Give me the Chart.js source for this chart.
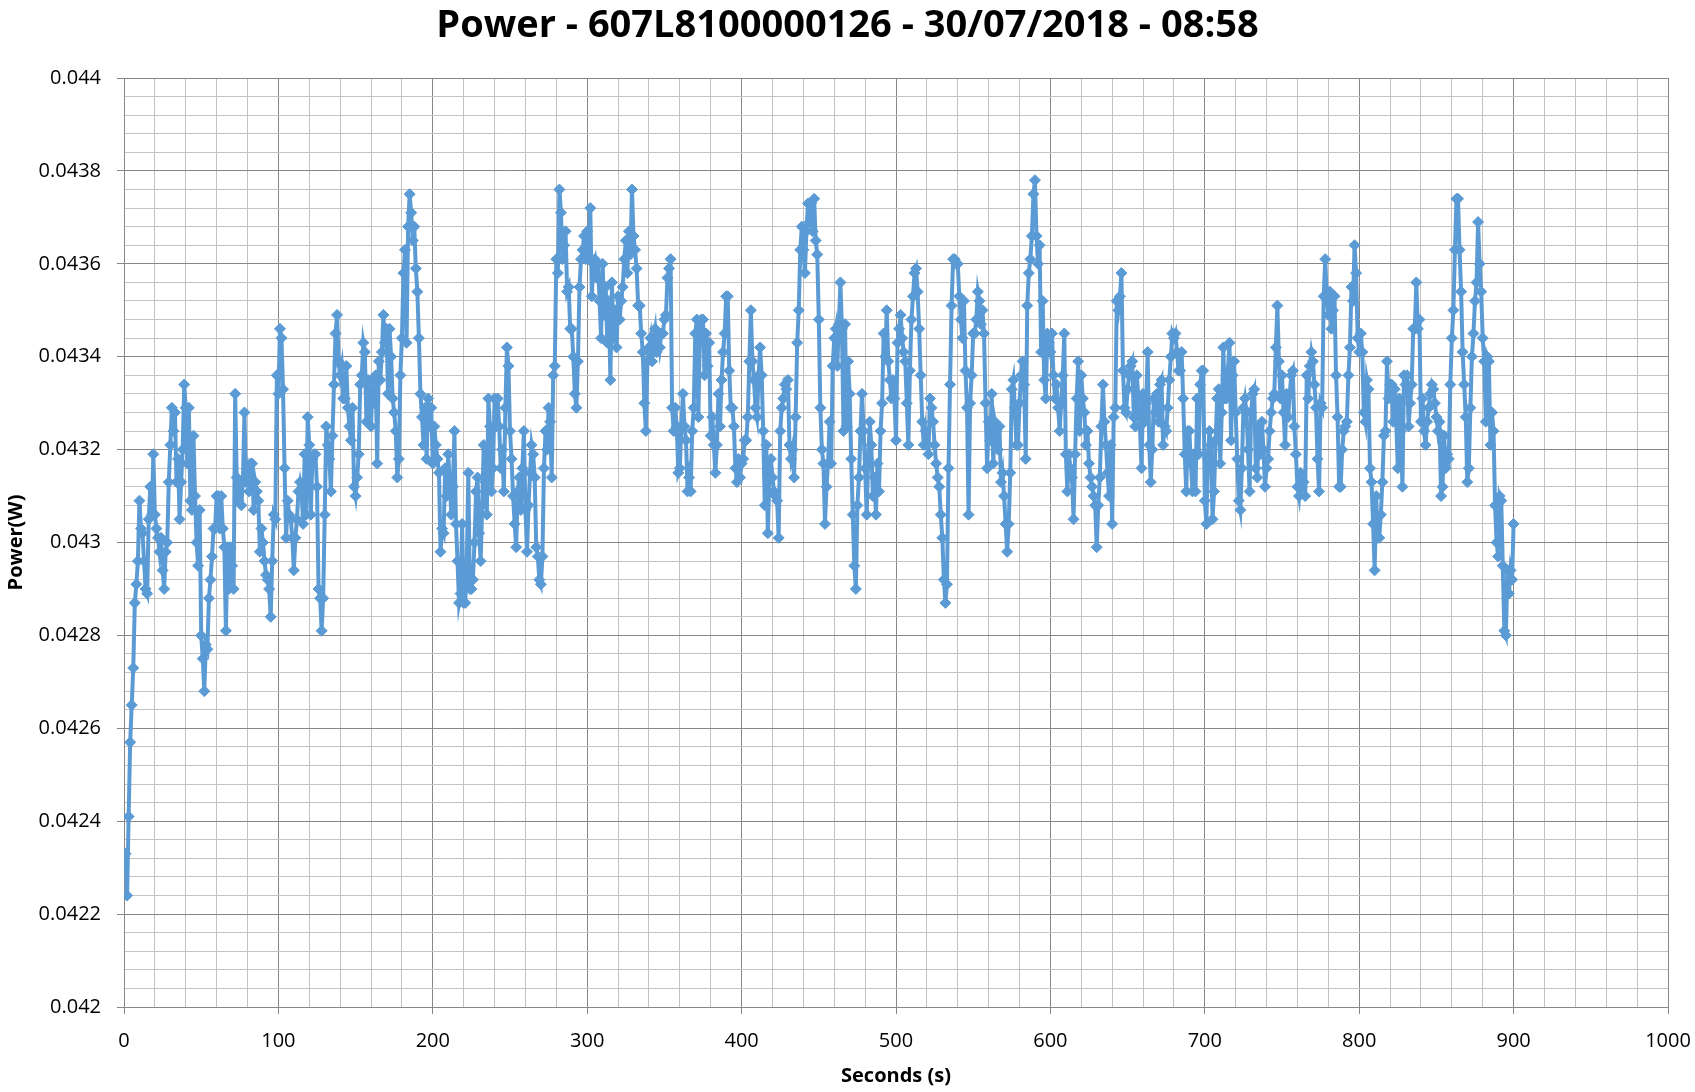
<!DOCTYPE html>
<html>
<head>
<meta charset="utf-8">
<script src="https://cdn.jsdelivr.net/npm/chart.js@4.4.1/dist/chart.umd.min.js"></script>
<style>
html,body{margin:0;padding:0;background:#ffffff;}
#wrap{width:1695px;height:1092px;position:relative;}
</style>
</head>
<body>
<div id="wrap"><canvas id="c" width="1695" height="1092"></canvas></div>
<script>
const chartTitle = 'Power - 607L8100000126 - 30/07/2018 - 08:58';
const xAxisTitle = 'Seconds (s)';
const yAxisTitle = 'Power(W)';

// sampling: one reading per second, first reading at second 1
const firstSecond = 1;

// Power readings (W), one per second
const powerW = [
0.04233,0.04224,0.04241,0.04257,0.04265,0.04273,0.04287,0.04291,0.04296,0.04309,
0.04303,0.04302,0.04296,0.04290,0.04289,0.04305,0.04312,0.04306,0.04319,0.04306,
0.04303,0.04301,0.04298,0.04301,0.04294,0.04290,0.04298,0.04300,0.04313,0.04321,
0.04329,0.04324,0.04328,0.04313,0.04318,0.04305,0.04313,0.04320,0.04334,0.04329,
0.04317,0.04329,0.04309,0.04307,0.04323,0.04310,0.04300,0.04295,0.04307,0.04280,
0.04275,0.04268,0.04278,0.04277,0.04288,0.04292,0.04297,0.04303,0.04303,0.04310,
0.04310,0.04303,0.04310,0.04303,0.04299,0.04281,0.04299,0.04290,0.04299,0.04295,
0.04290,0.04332,0.04314,0.04309,0.04313,0.04308,0.04313,0.04328,0.04313,0.04315,
0.04311,0.04317,0.04317,0.04307,0.04313,0.04311,0.04309,0.04298,0.04303,0.04300,
0.04296,0.04293,0.04292,0.04290,0.04284,0.04296,0.04306,0.04305,0.04336,0.04332,
0.04346,0.04344,0.04333,0.04316,0.04301,0.04309,0.04306,0.04305,0.04301,0.04294,
0.04301,0.04305,0.04311,0.04313,0.04311,0.04304,0.04319,0.04306,0.04327,0.04321,
0.04306,0.04318,0.04319,0.04319,0.04312,0.04290,0.04288,0.04281,0.04288,0.04306,
0.04325,0.04321,0.04318,0.04311,0.04323,0.04334,0.04345,0.04349,0.04339,0.04336,
0.04338,0.04331,0.04331,0.04338,0.04329,0.04325,0.04322,0.04329,0.04312,0.04310,
0.04314,0.04319,0.04334,0.04336,0.04343,0.04341,0.04326,0.04335,0.04330,0.04325,
0.04335,0.04330,0.04336,0.04317,0.04339,0.04335,0.04341,0.04349,0.04343,0.04346,
0.04332,0.04346,0.04340,0.04331,0.04328,0.04324,0.04314,0.04318,0.04336,0.04344,
0.04358,0.04363,0.04343,0.04368,0.04375,0.04371,0.04365,0.04368,0.04359,0.04354,
0.04344,0.04332,0.04327,0.04321,0.04329,0.04318,0.04331,0.04325,0.04329,0.04317,
0.04325,0.04321,0.04318,0.04315,0.04298,0.04303,0.04302,0.04316,0.04310,0.04319,
0.04313,0.04306,0.04312,0.04324,0.04304,0.04296,0.04287,0.04289,0.04304,0.04287,
0.04287,0.04295,0.04315,0.04290,0.04290,0.04292,0.04300,0.04311,0.04314,0.04302,
0.04296,0.04308,0.04321,0.04313,0.04306,0.04331,0.04325,0.04311,0.04316,0.04331,
0.04325,0.04331,0.04325,0.04316,0.04320,0.04311,0.04329,0.04342,0.04338,0.04324,
0.04318,0.04310,0.04304,0.04299,0.04311,0.04314,0.04307,0.04316,0.04324,0.04307,
0.04298,0.04308,0.04315,0.04321,0.04319,0.04314,0.04299,0.04297,0.04292,0.04291,
0.04297,0.04316,0.04324,0.04320,0.04329,0.04326,0.04314,0.04336,0.04338,0.04361,
0.04358,0.04376,0.04371,0.04361,0.04364,0.04367,0.04354,0.04355,0.04346,0.04346,
0.04340,0.04332,0.04329,0.04339,0.04355,0.04361,0.04363,0.04366,0.04361,0.04367,
0.04361,0.04372,0.04353,0.04360,0.04361,0.04357,0.04360,0.04352,0.04344,0.04360,
0.04349,0.04355,0.04343,0.04352,0.04335,0.04356,0.04344,0.04350,0.04342,0.04353,
0.04348,0.04352,0.04355,0.04361,0.04365,0.04358,0.04367,0.04362,0.04376,0.04366,
0.04363,0.04359,0.04351,0.04351,0.04345,0.04341,0.04330,0.04324,0.04339,0.04342,
0.04344,0.04339,0.04344,0.04346,0.04341,0.04345,0.04342,0.04345,0.04345,0.04348,
0.04349,0.04357,0.04359,0.04361,0.04329,0.04324,0.04329,0.04325,0.04315,0.04316,
0.04325,0.04332,0.04325,0.04322,0.04311,0.04314,0.04311,0.04324,0.04329,0.04345,
0.04348,0.04327,0.04345,0.04348,0.04348,0.04336,0.04345,0.04338,0.04343,0.04323,
0.04327,0.04321,0.04315,0.04321,0.04332,0.04325,0.04335,0.04341,0.04345,0.04353,
0.04353,0.04337,0.04329,0.04329,0.04325,0.04316,0.04313,0.04318,0.04314,0.04317,
0.04318,0.04322,0.04322,0.04327,0.04339,0.04350,0.04339,0.04335,0.04329,0.04327,
0.04336,0.04342,0.04336,0.04324,0.04308,0.04321,0.04302,0.04314,0.04318,0.04314,
0.04311,0.04310,0.04309,0.04301,0.04324,0.04329,0.04331,0.04334,0.04333,0.04335,
0.04321,0.04318,0.04320,0.04314,0.04327,0.04343,0.04350,0.04363,0.04368,0.04363,
0.04358,0.04367,0.04373,0.04369,0.04373,0.04367,0.04374,0.04365,0.04362,0.04348,
0.04329,0.04320,0.04317,0.04304,0.04312,0.04317,0.04326,0.04317,0.04338,0.04344,
0.04346,0.04338,0.04347,0.04356,0.04346,0.04324,0.04347,0.04325,0.04339,0.04332,
0.04318,0.04306,0.04295,0.04290,0.04308,0.04314,0.04324,0.04332,0.04324,0.04316,
0.04306,0.04318,0.04326,0.04321,0.04310,0.04314,0.04306,0.04317,0.04311,0.04324,
0.04330,0.04345,0.04340,0.04350,0.04339,0.04335,0.04331,0.04335,0.04331,0.04322,
0.04343,0.04346,0.04349,0.04344,0.04341,0.04339,0.04330,0.04321,0.04337,0.04348,
0.04353,0.04358,0.04359,0.04354,0.04346,0.04336,0.04326,0.04321,0.04324,0.04321,
0.04319,0.04331,0.04329,0.04326,0.04321,0.04317,0.04314,0.04312,0.04306,0.04301,
0.04292,0.04287,0.04291,0.04316,0.04334,0.04351,0.04361,0.04361,0.04360,0.04360,
0.04353,0.04348,0.04344,0.04352,0.04337,0.04329,0.04306,0.04330,0.04336,0.04345,
0.04345,0.04348,0.04354,0.04352,0.04347,0.04350,0.04345,0.04330,0.04316,0.04326,
0.04322,0.04332,0.04317,0.04326,0.04324,0.04320,0.04325,0.04313,0.04315,0.04310,
0.04304,0.04298,0.04304,0.04315,0.04333,0.04335,0.04329,0.04321,0.04321,0.04330,
0.04336,0.04339,0.04334,0.04318,0.04351,0.04358,0.04361,0.04366,0.04375,0.04378,
0.04366,0.04360,0.04364,0.04341,0.04352,0.04335,0.04331,0.04345,0.04343,0.04341,
0.04345,0.04336,0.04331,0.04334,0.04329,0.04324,0.04330,0.04336,0.04345,0.04319,
0.04311,0.04319,0.04316,0.04314,0.04305,0.04319,0.04331,0.04339,0.04324,0.04336,
0.04331,0.04328,0.04321,0.04324,0.04317,0.04314,0.04312,0.04310,0.04308,0.04299,
0.04308,0.04314,0.04325,0.04334,0.04326,0.04321,0.04315,0.04310,0.04321,0.04304,
0.04327,0.04329,0.04352,0.04350,0.04353,0.04358,0.04337,0.04329,0.04328,0.04333,
0.04336,0.04338,0.04339,0.04327,0.04325,0.04336,0.04331,0.04325,0.04316,0.04332,
0.04326,0.04330,0.04341,0.04321,0.04313,0.04320,0.04331,0.04328,0.04332,0.04326,
0.04334,0.04335,0.04321,0.04325,0.04324,0.04329,0.04335,0.04340,0.04345,0.04344,
0.04345,0.04341,0.04337,0.04337,0.04341,0.04331,0.04319,0.04311,0.04324,0.04324,
0.04317,0.04311,0.04319,0.04311,0.04331,0.04319,0.04334,0.04337,0.04337,0.04309,
0.04304,0.04318,0.04324,0.04321,0.04305,0.04311,0.04322,0.04331,0.04333,0.04317,
0.04328,0.04342,0.04331,0.04331,0.04337,0.04343,0.04322,0.04336,0.04339,0.04328,
0.04318,0.04309,0.04307,0.04316,0.04329,0.04331,0.04328,0.04320,0.04311,0.04328,
0.04332,0.04333,0.04316,0.04314,0.04325,0.04319,0.04326,0.04320,0.04312,0.04316,
0.04318,0.04324,0.04328,0.04331,0.04332,0.04342,0.04351,0.04339,0.04331,0.04336,
0.04328,0.04321,0.04332,0.04327,0.04332,0.04336,0.04337,0.04325,0.04319,0.04312,
0.04310,0.04315,0.04312,0.04313,0.04310,0.04336,0.04331,0.04338,0.04341,0.04339,
0.04334,0.04329,0.04318,0.04311,0.04330,0.04329,0.04353,0.04361,0.04353,0.04349,
0.04354,0.04346,0.04350,0.04353,0.04336,0.04327,0.04312,0.04312,0.04320,0.04324,
0.04325,0.04326,0.04336,0.04342,0.04355,0.04352,0.04364,0.04358,0.04344,0.04341,
0.04345,0.04341,0.04328,0.04326,0.04335,0.04333,0.04316,0.04313,0.04304,0.04294,
0.04310,0.04301,0.04301,0.04306,0.04313,0.04323,0.04324,0.04339,0.04331,0.04334,
0.04334,0.04326,0.04333,0.04326,0.04316,0.04331,0.04324,0.04312,0.04336,0.04334,
0.04336,0.04325,0.04330,0.04334,0.04346,0.04346,0.04356,0.04346,0.04348,0.04326,
0.04331,0.04324,0.04321,0.04326,0.04329,0.04332,0.04334,0.04333,0.04330,0.04327,
0.04324,0.04326,0.04310,0.04312,0.04323,0.04316,0.04319,0.04318,0.04334,0.04344,
0.04350,0.04363,0.04374,0.04374,0.04363,0.04354,0.04341,0.04334,0.04327,0.04313,
0.04316,0.04329,0.04340,0.04345,0.04352,0.04356,0.04369,0.04360,0.04354,0.04344,
0.04339,0.04326,0.04340,0.04339,0.04321,0.04328,0.04324,0.04308,0.04300,0.04297,
0.04310,0.04309,0.04295,0.04281,0.04280,0.04294,0.04289,0.04294,0.04292,0.04304
];

// axis ranges and grid steps
const xMin = 0, xMax = 1000, xMajorStep = 100, xMinorStep = 20;
const yMin = 0.042, yMax = 0.044, yMajorStep = 0.0002, yMinorStep = 0.00004;

const lineColor = '#5B9BD5';
const majorGrid = '#878787';
const minorGrid = '#c3c3c3';
const fontFamily = "'Open Sans', 'Liberation Sans', sans-serif";

const xTickValues = [];
for (let i = 0; i <= Math.round((xMax - xMin) / xMinorStep); i++) xTickValues.push(xMin + i * xMinorStep);
const yTickValues = [];
for (let i = 0; i <= Math.round((yMax - yMin) / yMinorStep); i++) yTickValues.push(+(yMin + i * yMinorStep).toFixed(6));

function isMajorX(v) { return Math.abs(v / xMajorStep - Math.round(v / xMajorStep)) < 1e-6; }
function isMajorY(v) { return Math.abs(v / yMajorStep - Math.round(v / yMajorStep)) < 1e-6; }

const points = powerW.map((p, i) => ({ x: firstSecond + i, y: p }));

new Chart(document.getElementById('c'), {
  type: 'line',
  data: {
    datasets: [{
      label: 'Power',
      data: points,
      borderColor: lineColor,
      backgroundColor: lineColor,
      borderWidth: 4,
      pointStyle: 'rectRot',
      pointRadius: 5.5,
      pointBorderWidth: 1,
      pointBackgroundColor: lineColor,
      pointBorderColor: lineColor,
      tension: 0,
      fill: false
    }]
  },
  options: {
    responsive: false,
    animation: false,
    devicePixelRatio: 1,
    layout: { padding: { left: 0, right: 0, top: 0, bottom: 0 } },
    plugins: {
      legend: { display: false },
      tooltip: { enabled: false },
      title: {
        display: true,
        text: chartTitle,
        color: '#000000',
        font: { family: fontFamily, size: 38, weight: 'bold', lineHeight: 1.2 },
        padding: { top: 3, bottom: 29.4 }
      }
    },
    scales: {
      x: {
        type: 'linear',
        min: xMin,
        max: xMax,
        afterBuildTicks: (scale) => { scale.ticks = xTickValues.map(v => ({ value: v })); },
        afterFit: (scale) => { scale.height = 85; scale.paddingRight = 27; scale.paddingLeft = 0; },
        ticks: {
          autoSkip: false,
          maxRotation: 0,
          minRotation: 0,
          padding: 15,
          color: '#000000',
          font: { family: fontFamily, size: 20 },
          callback: (v) => isMajorX(v) ? String(v) : ''
        },
        grid: {
          color: (ctx) => (ctx.tick && isMajorX(ctx.tick.value)) ? majorGrid : minorGrid,
          tickColor: (ctx) => (ctx.tick && isMajorX(ctx.tick.value)) ? majorGrid : 'rgba(0,0,0,0)',
          tickLength: 7,
          lineWidth: 1
        },
        border: { display: true, color: majorGrid, width: 1 },
        title: {
          display: true,
          text: xAxisTitle,
          color: '#000000',
          font: { family: fontFamily, size: 20, weight: 'bold', lineHeight: 1.2 },
          padding: { top: 4, bottom: 4 }
        }
      },
      y: {
        type: 'linear',
        min: yMin,
        max: yMax,
        afterBuildTicks: (scale) => { scale.ticks = yTickValues.map(v => ({ value: v })); },
        afterFit: (scale) => { scale.width = 124; },
        ticks: {
          autoSkip: false,
          padding: 16,
          color: '#000000',
          font: { family: fontFamily, size: 20 },
          callback: (v) => isMajorY(v) ? String(Number(v.toFixed(4))) : ''
        },
        grid: {
          color: (ctx) => (ctx.tick && isMajorY(ctx.tick.value)) ? majorGrid : minorGrid,
          tickColor: (ctx) => (ctx.tick && isMajorY(ctx.tick.value)) ? majorGrid : 'rgba(0,0,0,0)',
          tickLength: 7,
          lineWidth: 1
        },
        border: { display: true, color: majorGrid, width: 1 },
        title: {
          display: true,
          text: yAxisTitle,
          color: '#000000',
          font: { family: fontFamily, size: 20, weight: 'bold', lineHeight: 1.2 },
          padding: { top: 4, bottom: 4 }
        }
      }
    }
  }
});
</script>
</body>
</html>
